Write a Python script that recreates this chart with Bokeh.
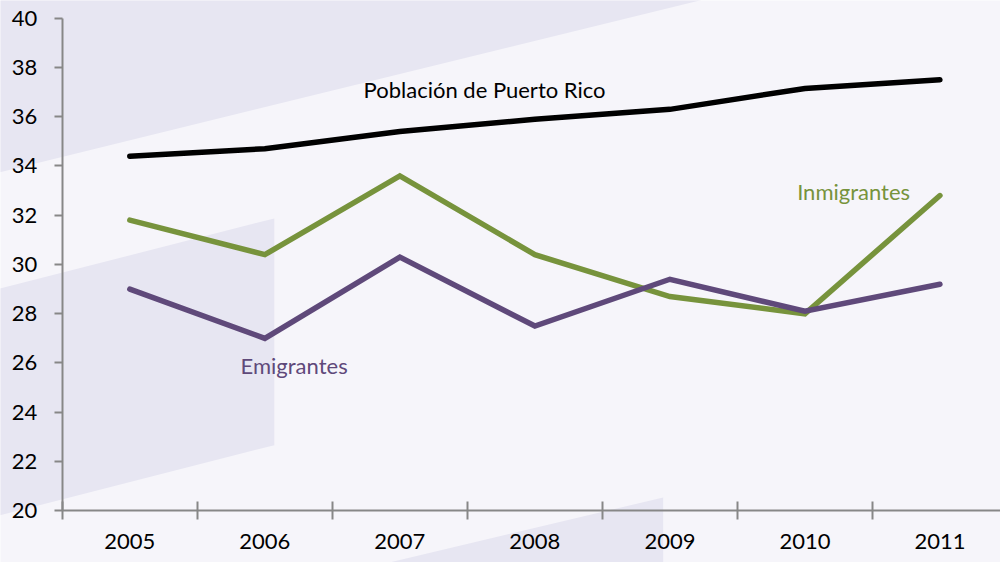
from bokeh.plotting import figure
from bokeh.models import FixedTicker, Range1d, Label
from bokeh.embed import file_html
from bokeh.resources import INLINE

# ---- data ----
years = ["2005", "2006", "2007", "2008", "2009", "2010", "2011"]
poblacion = [34.4, 34.7, 35.4, 35.9, 36.3, 37.15, 37.5]
inmigrantes = [31.8, 30.4, 33.6, 30.4, 28.7, 28.0, 32.8]
emigrantes = [29.0, 27.0, 30.3, 27.5, 29.4, 28.1, 29.2]
y_ticks = [20, 22, 24, 26, 28, 30, 32, 34, 36, 38, 40]

# category centres / boundaries on a numeric axis
x = [i + 0.5 for i in range(len(years))]
bounds = [float(i) for i in range(len(years) + 1)]

BG = "#f6f5fa"
SHAPE = "#e7e6f2"
AXIS = "#878787"
GREEN = "#77933c"
PURPLE = "#5f497a"

# layout geometry (reference picture is 1008 x 570 px)
AX_X, X_UNIT = 62.3, 136.1     # px of category boundary 0, px per category
AX_Y, Y_UNIT = 517.5, 24.975   # px of value 20, px per unit
REF_W, REF_H = 1008, 570


def dx(px):
    return (px - AX_X) / X_UNIT


def dy(py):
    return 20 + (AX_Y - py) / Y_UNIT


p = figure(width=1000, height=562, output_backend="svg", toolbar_location=None,
           x_range=Range1d(dx(0), dx(REF_W)), y_range=Range1d(dy(REF_H), dy(0)),
           min_border=0, min_border_left=0, min_border_right=0,
           min_border_top=0, min_border_bottom=0)
p.background_fill_color = BG
p.border_fill_color = BG
p.outline_line_color = None
p.grid.visible = False

# decorative background shapes (given in picture pixels)
shapes_px = [
    [(-5, -5), (725, -5), (-5, 175.2)],
    [(-5, 293.3), (276, 221), (276, 451), (-5, 523.3)],
    [(371, 575), (668, 504), (668, 575)],
]
p.patches([[dx(a) for a, b in s] for s in shapes_px],
          [[dy(b) for a, b in s] for s in shapes_px],
          fill_color=SHAPE, line_color=None, level="underlay")

# lines
for vals, col in [(poblacion, "#000000"), (inmigrantes, GREEN), (emigrantes, PURPLE)]:
    p.line(x, vals, line_width=5.5, line_color=col, line_cap="round", line_join="miter")

# series labels
for lx, ly, txt, col in [
    (dx(366), dy(90), "Población de Puerto Rico", "#000000"),
    (dx(803), dy(194), "Inmigrantes", GREEN),
    (dx(242), dy(370), "Emigrantes", PURPLE),
]:
    p.add_layout(Label(x=lx, y=ly, text=txt, text_color=col, text_font="Lato",
                       text_font_size="22px", text_baseline="alphabetic"))

# y axis
ya = p.yaxis[0]
ya.fixed_location = 0
ya.bounds = (20, 40)
ya.ticker = FixedTicker(ticks=y_ticks)
ya.axis_line_color = AXIS
ya.axis_line_width = 2
ya.major_tick_line_color = AXIS
ya.major_tick_line_width = 2
ya.major_tick_out = 8
ya.major_tick_in = 0
ya.minor_tick_line_color = None
ya.major_label_standoff = 17
ya.major_label_text_font = "Lato"
ya.major_label_text_font_size = "22px"
ya.major_label_text_color = "#000000"

# x axis
xa = p.xaxis[0]
xa.fixed_location = 20
xa.bounds = (0, dx(REF_W + 10))
xa.ticker = FixedTicker(ticks=x, minor_ticks=bounds)
xa.major_label_overrides = {xv: yr for xv, yr in zip(x, years)}
xa.axis_line_color = AXIS
xa.axis_line_width = 2
xa.major_tick_line_color = None
xa.major_tick_in = 0
xa.major_tick_out = 0
xa.minor_tick_line_color = AXIS
xa.minor_tick_line_width = 2
xa.minor_tick_in = 9
xa.minor_tick_out = 9
xa.major_label_standoff = 14
xa.major_label_text_font = "Lato"
xa.major_label_text_font_size = "22px"
xa.major_label_text_color = "#000000"

open("out.html", "w").write(file_html(p, INLINE))
